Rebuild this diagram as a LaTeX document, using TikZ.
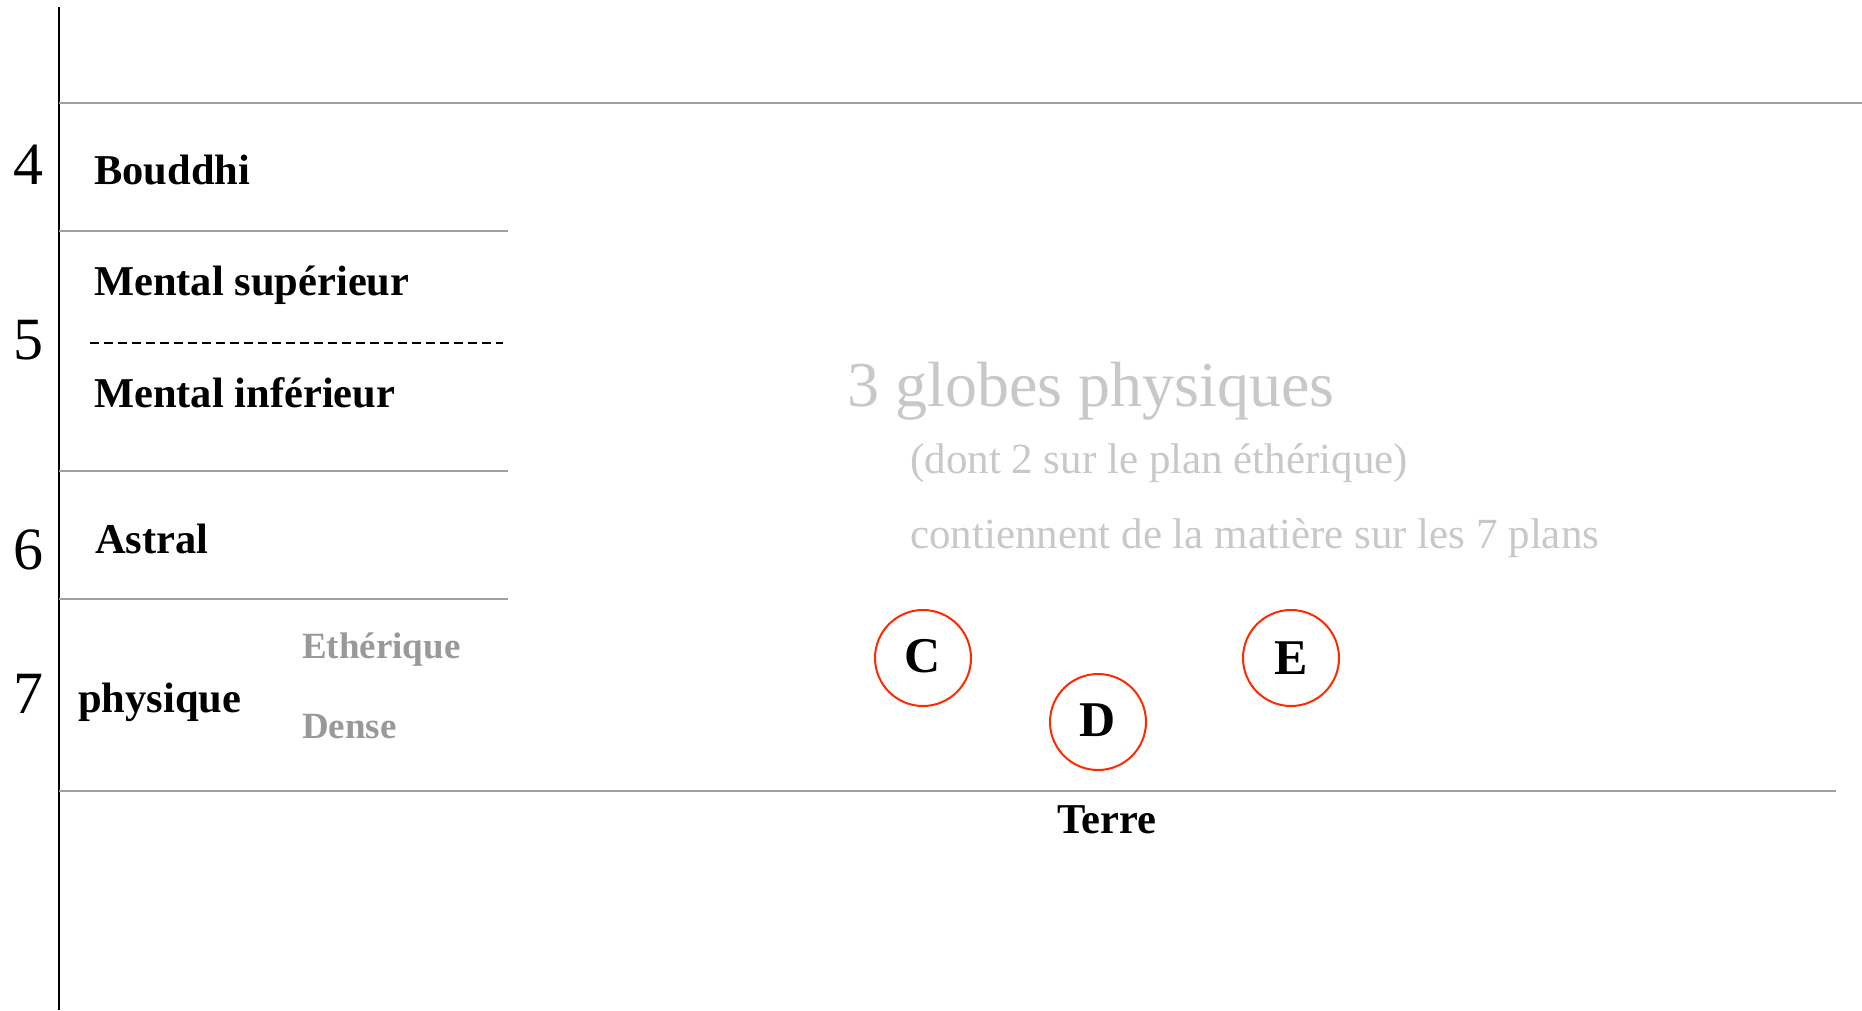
\documentclass[tikz,border=0pt]{standalone}
\usepackage{fontspec}
\setmainfont{Liberation Serif}
\usetikzlibrary{positioning}
\definecolor{rule}{HTML}{A0A0A0}
\definecolor{soft}{HTML}{999999}
\definecolor{pale}{HTML}{C8C8C8}
\definecolor{globered}{HTML}{FF2A00}

\begin{document}
\begin{tikzpicture}[x=1pt,y=-1pt,
    planline/.style={rule, line width=2pt},
    plannum/.style={inner sep=0pt, font=\fontsize{60}{60}\selectfont},
    planname/.style={anchor=base west, inner sep=0pt, font=\fontsize{42.5}{42.5}\selectfont\bfseries},
    sousplan/.style={anchor=base west, inner sep=0pt, text=soft, font=\fontsize{37}{37}\selectfont\bfseries},
    note/.style={anchor=base west, inner sep=0pt, text=pale, font=\fontsize{43}{43}\selectfont},
    globe/.style={circle, draw=globered, line width=2pt, minimum size=96pt, inner sep=0pt, font=\fontsize{50}{50}\selectfont\bfseries}]
      \useasboundingbox (0,0) rectangle (1862,1010);
      % axe et separations des plans
      \draw[line width=2pt] (59,7) -- (59,1010);
      \draw[planline] (59,103) -- (1862,103);
      \draw[planline] (59,231) -- (508,231);
      \draw[dash pattern=on 9pt off 5pt, line width=1.6pt] (90,343) -- (503,343);
      \draw[planline] (59,471) -- (508,471);
      \draw[planline] (59,599) -- (508,599);
      \draw[planline] (59,791) -- (1836,791);
      % numeros des plans
      \node[plannum] (n4) at (28,165) {4};
      \node[plannum] (n5) at (28,340) {5};
      \node[plannum] (n6) at (28,550) {6};
      \node[plannum] (n7) at (28,694) {7};
      % noms des plans
      \node[planname] (bouddhi) at (94,184) {Bouddhi};
      \node[planname] (msup) at (94,295) {Mental supérieur};
      \node[planname] (minf) at (94,407) {Mental inférieur};
      \node[planname] (astral) at (95,553) {Astral};
      \node[planname] (phys) at (78,712) {physique};
      \node[sousplan] (ether) at (302,658) {Ethérique};
      \node[sousplan] (dense) at (302,738) {Dense};
      % globes
      \node[note, font=\fontsize{64}{64}\selectfont] (titre) at (847,406) {3 globes physiques};
      \node[note] (dont) at (910,473) {(dont 2 sur le plan éthérique)};
      \node[note] (mat) at (910,548) {contiennent de la matière sur les 7 plans};
      \node[globe] (gC) at (923,658) {\raisebox{4pt}{C}};
      \node[globe] (gD) at (1098,722) {\raisebox{4pt}{D}};
      \node[globe] (gE) at (1291,658) {E};
      \node[planname, anchor=base] (terre) at (1107,833) {Terre};
\end{tikzpicture}
\end{document}
